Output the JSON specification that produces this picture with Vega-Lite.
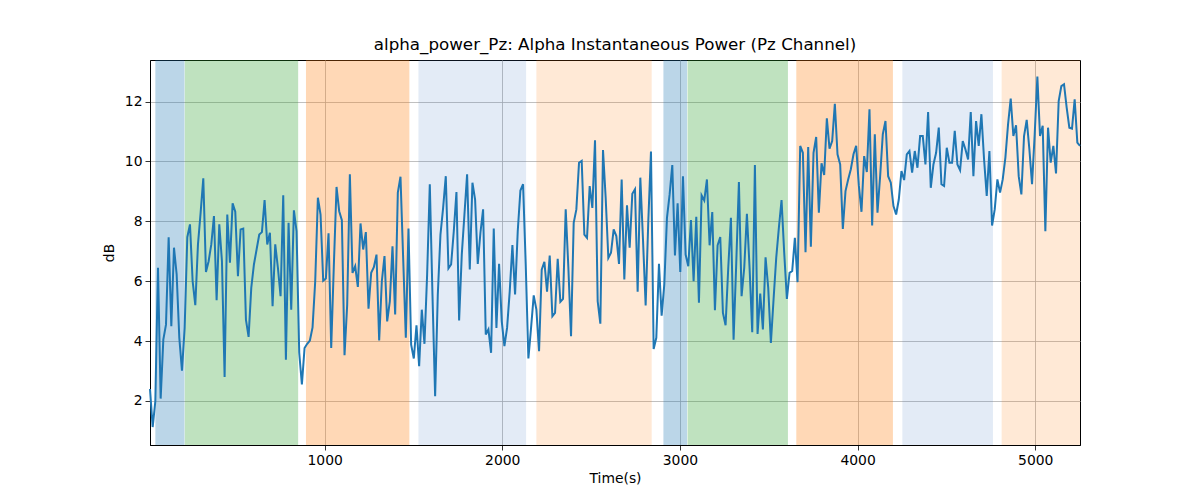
{
"$schema": "https://vega.github.io/schema/vega-lite/v6.json",
"width": 930, "height": 385,
"autosize": "none",
"padding": {"left": 150, "top": 60, "right": 120, "bottom": 55},
"title": {"text": "alpha_power_Pz: Alpha Instantaneous Power (Pz Channel)", "font": "DejaVu Sans", "fontSize": 16.7, "fontWeight": "normal", "color": "#000000", "offset": 6},
"config": {
 "font": "DejaVu Sans",
 "view": {"stroke": "#000000", "strokeWidth": 1},
 "axis": {"grid": true, "gridColor": "#b0b0b0", "gridWidth": 0.8, "gridOpacity": 1, "domainColor": "#000000", "domainWidth": 1, "tickColor": "#000000", "tickSize": 5, "tickWidth": 0.8, "labelColor": "#000000", "labelFont": "DejaVu Sans", "labelFontSize": 13.9, "labelPadding": 3, "titleFont": "DejaVu Sans", "titleFontSize": 13.9, "titleFontWeight": "normal", "titleColor": "#000000"}
},
"datasets": {
 "spans": [
  {"start": 47, "end": 211, "phase": "A"},
  {"start": 213, "end": 851, "phase": "B"},
  {"start": 895, "end": 1477, "phase": "C"},
  {"start": 1528, "end": 2134, "phase": "D"},
  {"start": 2192, "end": 2841, "phase": "E"},
  {"start": 2907, "end": 3040, "phase": "A"},
  {"start": 3043, "end": 3608, "phase": "B"},
  {"start": 3655, "end": 4199, "phase": "C"},
  {"start": 4252, "end": 4762, "phase": "D"},
  {"start": 4811, "end": 5252, "phase": "E"}
 ],
 "power": [
  {"time":17,"db":2.4},{"time":32,"db":1.13},{"time":47,"db":1.99},{"time":62,"db":6.45},{"time":77,"db":2.08},{"time":92,"db":4.05},{"time":107,"db":4.55},{"time":122,"db":7.47},{"time":137,"db":4.5},{"time":152,"db":7.12},
  {"time":167,"db":6.23},{"time":182,"db":4.11},{"time":197,"db":3.01},{"time":212,"db":4.44},{"time":227,"db":7.47},{"time":242,"db":7.9},{"time":257,"db":6.0},{"time":272,"db":5.2},{"time":287,"db":7.23},{"time":302,"db":8.29},
  {"time":317,"db":9.44},{"time":332,"db":6.31},{"time":347,"db":6.67},{"time":362,"db":7.23},{"time":377,"db":8.18},{"time":392,"db":5.37},{"time":407,"db":7.9},{"time":422,"db":6.67},{"time":437,"db":2.8},{"time":452,"db":8.23},
  {"time":467,"db":6.62},{"time":482,"db":8.6},{"time":497,"db":8.32},{"time":512,"db":6.17},{"time":527,"db":7.73},{"time":542,"db":7.76},{"time":557,"db":4.72},{"time":572,"db":4.14},{"time":587,"db":5.78},{"time":602,"db":6.56},
  {"time":617,"db":7.06},{"time":632,"db":7.56},{"time":647,"db":7.64},{"time":662,"db":8.71},{"time":677,"db":7.23},{"time":692,"db":7.62},{"time":707,"db":5.17},{"time":722,"db":7.23},{"time":737,"db":6.45},{"time":752,"db":5.5},
  {"time":767,"db":8.87},{"time":782,"db":3.38},{"time":797,"db":7.95},{"time":812,"db":5.05},{"time":827,"db":8.37},{"time":842,"db":7.67},{"time":857,"db":3.61},{"time":872,"db":2.55},{"time":887,"db":3.77},{"time":902,"db":3.91},
  {"time":917,"db":4.02},{"time":932,"db":4.46},{"time":947,"db":6.0},{"time":962,"db":8.79},{"time":977,"db":8.23},{"time":992,"db":6.02},{"time":1007,"db":6.09},{"time":1022,"db":7.6},{"time":1037,"db":3.77},{"time":1052,"db":6.56},
  {"time":1067,"db":9.15},{"time":1082,"db":8.34},{"time":1097,"db":8.04},{"time":1112,"db":3.53},{"time":1127,"db":5.22},{"time":1142,"db":9.57},{"time":1157,"db":6.28},{"time":1172,"db":6.5},{"time":1187,"db":5.81},{"time":1202,"db":7.93},
  {"time":1217,"db":7.06},{"time":1232,"db":7.64},{"time":1247,"db":5.08},{"time":1262,"db":6.28},{"time":1277,"db":6.47},{"time":1292,"db":6.89},{"time":1307,"db":4.02},{"time":1322,"db":6.0},{"time":1337,"db":6.84},{"time":1352,"db":4.66},
  {"time":1367,"db":5.33},{"time":1382,"db":7.17},{"time":1397,"db":4.89},{"time":1412,"db":8.96},{"time":1427,"db":9.49},{"time":1442,"db":6.78},{"time":1457,"db":4.11},{"time":1472,"db":7.76},{"time":1487,"db":3.88},{"time":1502,"db":3.42},
  {"time":1517,"db":4.53},{"time":1532,"db":3.16},{"time":1547,"db":5.05},{"time":1562,"db":3.91},{"time":1577,"db":6.23},{"time":1592,"db":9.24},{"time":1607,"db":5.56},{"time":1622,"db":2.16},{"time":1637,"db":5.56},{"time":1652,"db":7.56},
  {"time":1667,"db":8.45},{"time":1682,"db":9.51},{"time":1697,"db":6.43},{"time":1712,"db":6.56},{"time":1727,"db":7.67},{"time":1742,"db":8.98},{"time":1757,"db":4.69},{"time":1772,"db":6.89},{"time":1787,"db":8.23},{"time":1802,"db":9.57},
  {"time":1817,"db":6.39},{"time":1832,"db":9.29},{"time":1847,"db":8.73},{"time":1862,"db":6.58},{"time":1877,"db":7.62},{"time":1892,"db":8.4},{"time":1907,"db":4.22},{"time":1922,"db":4.39},{"time":1937,"db":3.61},{"time":1952,"db":7.76},
  {"time":1967,"db":4.44},{"time":1982,"db":6.58},{"time":1997,"db":4.66},{"time":2012,"db":3.83},{"time":2027,"db":4.44},{"time":2042,"db":5.67},{"time":2057,"db":7.21},{"time":2072,"db":5.56},{"time":2087,"db":7.67},{"time":2102,"db":9.03},
  {"time":2117,"db":9.24},{"time":2132,"db":6.56},{"time":2147,"db":3.42},{"time":2162,"db":4.44},{"time":2177,"db":5.53},{"time":2192,"db":5.05},{"time":2207,"db":3.66},{"time":2222,"db":6.39},{"time":2237,"db":6.65},{"time":2252,"db":5.65},
  {"time":2267,"db":6.86},{"time":2282,"db":4.83},{"time":2297,"db":4.94},{"time":2312,"db":6.75},{"time":2327,"db":5.31},{"time":2342,"db":5.41},{"time":2357,"db":8.4},{"time":2372,"db":6.45},{"time":2387,"db":4.16},{"time":2402,"db":7.95},
  {"time":2417,"db":8.4},{"time":2432,"db":9.96},{"time":2447,"db":10.02},{"time":2462,"db":7.56},{"time":2477,"db":7.45},{"time":2492,"db":9.18},{"time":2507,"db":8.45},{"time":2522,"db":10.71},{"time":2537,"db":5.33},{"time":2552,"db":4.58},
  {"time":2567,"db":10.38},{"time":2582,"db":8.79},{"time":2597,"db":6.78},{"time":2612,"db":6.95},{"time":2627,"db":7.73},{"time":2642,"db":7.51},{"time":2657,"db":6.58},{"time":2672,"db":9.4},{"time":2687,"db":6.06},{"time":2702,"db":8.54},
  {"time":2717,"db":7.12},{"time":2732,"db":8.92},{"time":2747,"db":9.07},{"time":2762,"db":5.65},{"time":2777,"db":9.46},{"time":2792,"db":7.4},{"time":2807,"db":5.19},{"time":2822,"db":8.01},{"time":2837,"db":10.33},{"time":2852,"db":3.74},
  {"time":2867,"db":4.11},{"time":2882,"db":6.58},{"time":2897,"db":4.85},{"time":2912,"db":5.89},{"time":2927,"db":8.12},{"time":2942,"db":8.9},{"time":2957,"db":9.88},{"time":2972,"db":6.86},{"time":2987,"db":8.6},{"time":3002,"db":6.31},
  {"time":3017,"db":9.51},{"time":3032,"db":6.89},{"time":3047,"db":6.5},{"time":3062,"db":8.04},{"time":3077,"db":6.0},{"time":3092,"db":8.15},{"time":3107,"db":5.28},{"time":3122,"db":8.87},{"time":3137,"db":8.7},{"time":3152,"db":9.4},
  {"time":3167,"db":7.2},{"time":3182,"db":8.31},{"time":3197,"db":5.03},{"time":3212,"db":7.2},{"time":3227,"db":7.48},{"time":3242,"db":4.94},{"time":3257,"db":4.53},{"time":3272,"db":6.45},{"time":3287,"db":8.12},{"time":3302,"db":4.05},
  {"time":3317,"db":6.6},{"time":3332,"db":9.31},{"time":3347,"db":5.5},{"time":3362,"db":6.45},{"time":3377,"db":8.25},{"time":3392,"db":6.45},{"time":3407,"db":4.3},{"time":3422,"db":9.88},{"time":3437,"db":4.24},{"time":3452,"db":5.59},
  {"time":3467,"db":4.39},{"time":3482,"db":6.8},{"time":3497,"db":5.78},{"time":3512,"db":3.94},{"time":3527,"db":5.39},{"time":3542,"db":6.78},{"time":3557,"db":7.79},{"time":3572,"db":8.71},{"time":3587,"db":6.95},{"time":3602,"db":5.41},
  {"time":3617,"db":6.28},{"time":3632,"db":6.34},{"time":3647,"db":7.45},{"time":3662,"db":5.97},{"time":3677,"db":10.52},{"time":3692,"db":10.29},{"time":3707,"db":6.97},{"time":3722,"db":10.48},{"time":3737,"db":7.15},{"time":3752,"db":10.29},
  {"time":3767,"db":10.82},{"time":3782,"db":8.29},{"time":3797,"db":9.94},{"time":3812,"db":9.55},{"time":3827,"db":11.44},{"time":3842,"db":10.43},{"time":3857,"db":10.68},{"time":3872,"db":11.93},{"time":3887,"db":10.24},{"time":3902,"db":9.9},
  {"time":3917,"db":7.75},{"time":3932,"db":9.01},{"time":3947,"db":9.4},{"time":3962,"db":9.74},{"time":3977,"db":10.24},{"time":3992,"db":10.52},{"time":4007,"db":9.2},{"time":4022,"db":8.32},{"time":4037,"db":10.18},{"time":4052,"db":9.65},
  {"time":4067,"db":11.74},{"time":4082,"db":7.86},{"time":4097,"db":10.91},{"time":4112,"db":8.29},{"time":4127,"db":9.51},{"time":4142,"db":10.91},{"time":4157,"db":11.35},{"time":4172,"db":9.51},{"time":4187,"db":9.29},{"time":4202,"db":8.51},
  {"time":4217,"db":8.23},{"time":4232,"db":8.73},{"time":4247,"db":9.68},{"time":4262,"db":9.38},{"time":4277,"db":10.24},{"time":4292,"db":10.35},{"time":4307,"db":9.63},{"time":4322,"db":10.35},{"time":4337,"db":9.79},{"time":4352,"db":10.85},
  {"time":4367,"db":10.85},{"time":4382,"db":9.9},{"time":4397,"db":11.65},{"time":4412,"db":9.12},{"time":4427,"db":9.9},{"time":4442,"db":10.29},{"time":4457,"db":11.13},{"time":4472,"db":9.24},{"time":4487,"db":9.18},{"time":4502,"db":10.46},
  {"time":4517,"db":9.96},{"time":4532,"db":9.96},{"time":4547,"db":11.02},{"time":4562,"db":9.9},{"time":4577,"db":9.71},{"time":4592,"db":10.68},{"time":4607,"db":10.41},{"time":4622,"db":10.07},{"time":4637,"db":11.65},{"time":4652,"db":9.51},
  {"time":4667,"db":11.35},{"time":4682,"db":10.52},{"time":4697,"db":11.58},{"time":4712,"db":10.07},{"time":4727,"db":8.85},{"time":4742,"db":10.35},{"time":4757,"db":7.86},{"time":4772,"db":8.4},{"time":4787,"db":9.4},{"time":4802,"db":8.96},
  {"time":4817,"db":9.4},{"time":4832,"db":10.13},{"time":4847,"db":11.24},{"time":4862,"db":12.1},{"time":4877,"db":10.85},{"time":4892,"db":11.21},{"time":4907,"db":9.51},{"time":4922,"db":8.9},{"time":4937,"db":10.85},{"time":4952,"db":11.39},
  {"time":4967,"db":10.41},{"time":4982,"db":9.24},{"time":4997,"db":10.91},{"time":5012,"db":12.84},{"time":5027,"db":10.85},{"time":5042,"db":11.19},{"time":5057,"db":7.67},{"time":5072,"db":11.13},{"time":5087,"db":9.96},{"time":5102,"db":10.52},
  {"time":5117,"db":9.6},{"time":5132,"db":12.02},{"time":5147,"db":12.52},{"time":5162,"db":12.58},{"time":5177,"db":11.8},{"time":5192,"db":11.13},{"time":5207,"db":11.1},{"time":5222,"db":12.08},{"time":5237,"db":10.63},{"time":5252,"db":10.52}
 ]
},
"layer": [
 {
  "data": {"name": "spans"},
  "mark": {"type": "rect", "opacity": 1},
  "encoding": {
   "x": {"field": "start", "type": "quantitative", "title": "Time(s)", "scale": {"domain": [17, 5252], "nice": false, "zero": false}, "axis": {"values": [1000, 2000, 3000, 4000, 5000], "format": "d", "titlePadding": 5}},
   "x2": {"field": "end"},
   "color": {"field": "phase", "type": "nominal", "scale": {"domain": ["A", "B", "C", "D", "E"], "range": ["rgba(31,119,180,0.3)", "rgba(44,160,44,0.3)", "rgba(255,127,14,0.3)", "rgba(68,122,195,0.15)", "rgba(255,127,14,0.17)"]}, "legend": null}
  }
 },
 {
  "data": {"name": "power"},
  "mark": {"type": "line", "color": "#1f77b4", "strokeWidth": 2},
  "encoding": {
   "x": {"field": "time", "type": "quantitative", "title": "Time(s)"},
   "y": {"field": "db", "type": "quantitative", "title": "dB", "scale": {"domain": [0.53, 13.39], "nice": false, "zero": false}, "axis": {"values": [2, 4, 6, 8, 10, 12], "format": "d", "titlePadding": 8}}
  }
 }
]
}
